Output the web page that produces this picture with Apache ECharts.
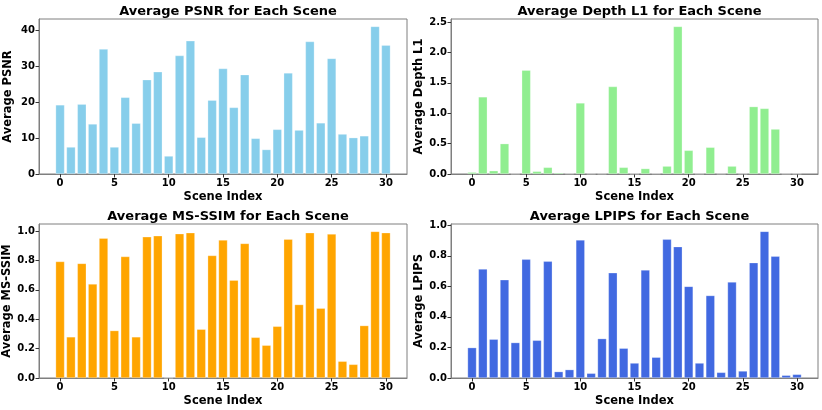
<!DOCTYPE html>
<html><head><meta charset="utf-8">
<script src="https://cdn.jsdelivr.net/npm/echarts@6/dist/echarts.min.js"></script>
<style>html,body{margin:0;padding:0;background:#fff}#c{width:822px;height:410px}</style>
</head><body><div id="c"></div>
<script>
const scenes = Array.from({length:31},(_,i)=>i);
const xTicks = [0,5,10,15,20,25,30];
const psnr = [19.2,7.5,19.4,13.9,34.7,7.5,21.3,14.1,26.2,28.4,5.0,32.9,37.0,10.2,20.5,29.3,18.5,27.6,9.9,6.8,12.4,28.1,12.2,36.8,14.2,32.1,11.1,10.1,10.6,41.0,35.8];
const depthL1 = [0.03,1.27,0.055,0.50,0.0,1.71,0.045,0.11,0.02,0.005,1.17,0.0,0.0,1.44,0.11,0.0,0.09,0.005,0.13,2.43,0.39,0.0,0.44,0.0,0.13,0.0,1.11,1.08,0.74,0.0,0.0];
const msssim = [0.793,0.28,0.78,0.64,0.952,0.323,0.827,0.28,0.961,0.968,0.0,0.982,0.989,0.332,0.834,0.939,0.666,0.916,0.277,0.223,0.352,0.945,0.50,0.989,0.475,0.98,0.114,0.093,0.357,0.998,0.989];
const lpips = [0.199,0.713,0.254,0.643,0.232,0.777,0.247,0.764,0.042,0.055,0.904,0.031,0.258,0.689,0.195,0.098,0.707,0.136,0.908,0.86,0.60,0.098,0.54,0.037,0.628,0.046,0.755,0.96,0.797,0.018,0.024];

const panels = [
  {title:'Average PSNR for Each Scene', yname:'Average PSNR', data:psnr, color:'#87CEEB', ymax:43.05, interval:10, dec:0},
  {title:'Average Depth L1 for Each Scene', yname:'Average Depth L1', data:depthL1, color:'#90EE90', ymax:2.552, interval:0.5, dec:1},
  {title:'Average MS-SSIM for Each Scene', yname:'Average MS-SSIM', data:msssim, color:'#FFA500', ymax:1.048, interval:0.2, dec:1},
  {title:'Average LPIPS for Each Scene', yname:'Average LPIPS', data:lpips, color:'#4169E1', ymax:1.008, interval:0.2, dec:1}
];
const grids = [
  {left:39, top:19, width:368, height:155},
  {left:451, top:19, width:367, height:155},
  {left:39, top:224, width:368, height:154},
  {left:451, top:224, width:367, height:154}
];
const font = 'DejaVu Sans';
const spine = '#7f7f7f';
const option = {
  animation:false,
  textStyle:{fontFamily:font},
  title: panels.map((p,i)=>({
    text:p.title, left: grids[i].left + grids[i].width/2, top: grids[i].top - 19, textAlign:'center',
    textStyle:{fontFamily:font, fontWeight:'bold', fontSize:13, color:'#000'}
  })),
  grid: grids.map(g=>Object.assign({show:true, borderColor:spine, borderWidth:1, backgroundColor:'transparent'}, g)),
  xAxis: panels.map((p,i)=>({
    type:'value', gridIndex:i, min:-1.94, max:31.94,
    name:'Scene Index', nameLocation:'middle', nameGap:17,
    nameTextStyle:{fontFamily:font, fontWeight:'bold', fontSize:11.5, color:'#000'},
    axisLine:{show:true, onZero:false, lineStyle:{color:spine}},
    axisTick:{show:true, length:3.5, lineStyle:{color:'#333'}, customValues:xTicks},
    axisLabel:{fontFamily:font, fontWeight:'bold', fontSize:10, color:'#000', margin:4, customValues:xTicks},
    splitLine:{show:false}
  })),
  yAxis: panels.map((p,i)=>({
    type:'value', gridIndex:i, min:0, max:p.ymax, interval:p.interval,
    name:p.yname, nameLocation:'middle', nameGap:25, nameRotate:90,
    nameTextStyle:{fontFamily:font, fontWeight:'bold', fontSize:11.5, color:'#000'},
    axisLine:{show:true, onZero:false, lineStyle:{color:spine}},
    axisTick:{show:true, length:3.5, lineStyle:{color:'#333'}},
    axisLabel:{fontFamily:font, fontWeight:'bold', fontSize:10, color:'#000', margin:4, showMaxLabel:false,
      formatter:v=>v.toFixed(p.dec)},
    splitLine:{show:false}
  })),
  series: panels.map((p,i)=>({
    type:'bar', xAxisIndex:i, yAxisIndex:i, barWidth:'83%',
    data: scenes.map((s,k)=>[s, p.data[k]]),
    itemStyle:{color:p.color, borderColor:'rgba(255,255,255,0.45)', borderWidth:0.6}
  }))
};
const chart = echarts.init(document.getElementById('c'), null, {renderer:'canvas'});
chart.setOption(option);
</script></body></html>
